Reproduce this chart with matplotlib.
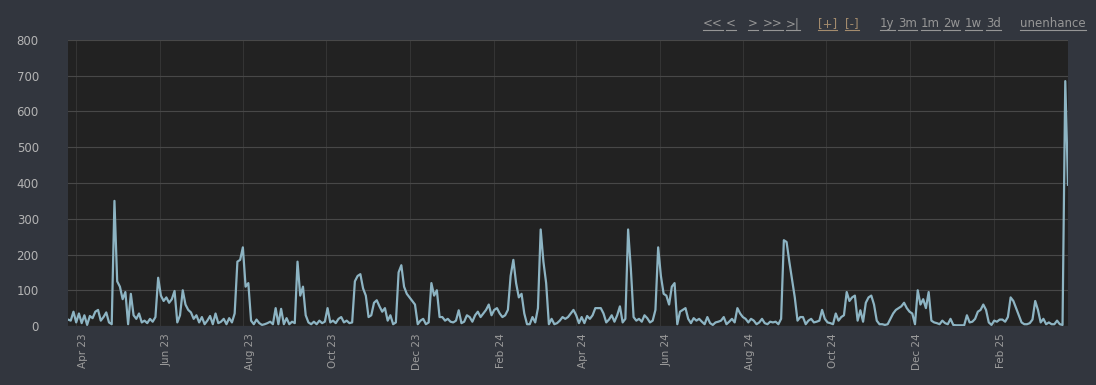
import matplotlib
matplotlib.use('Agg')
import matplotlib.pyplot as plt
import matplotlib.dates as mdates
from matplotlib.ticker import MultipleLocator
from matplotlib.transforms import ScaledTranslation
from matplotlib.lines import Line2D
import pandas as pd

# daily counts sampled every 2 days, starting 2023-03-26
start_date = '2023-03-26'

block1 = [18, 15, 40, 10, 35, 8, 30, 3, 28, 22,
          40, 45, 15, 25, 38, 10, 5, 350, 125, 110,
          75, 95, 5, 90, 30, 20, 35, 10, 15, 8,
          20, 12, 25, 135, 85, 70, 80, 65, 75, 98,
          10, 30, 100, 60, 45, 38, 20, 30, 10, 25,
          5, 15, 28, 5, 35, 8, 12, 20, 5, 22,
          10, 35, 180, 185, 220, 110, 120, 15, 5, 18,
          8, 3, 5]
block2 = [8, 12, 5, 50, 5, 48, 5, 22, 5, 12,
          8, 180, 85, 110, 30, 10, 5, 12, 5, 15,
          8, 12, 50, 10, 15, 8, 20, 25, 10, 15,
          8, 10, 125, 140, 145, 105, 85, 25, 30, 65,
          72, 55, 40, 50, 15, 30, 5, 10, 150, 170,
          110, 90, 80, 70, 60, 5, 15, 20, 5, 10,
          120, 85, 100, 25, 25, 15, 20, 12, 10, 15,
          44, 8, 12, 30]
block3 = [25, 12, 30, 40, 25, 35, 45, 60, 30, 45,
          50, 35, 25, 30, 45, 140, 185, 120, 80, 90,
          35, 5, 5, 25, 10, 50, 270, 180, 120, 5,
          20, 5, 8, 15, 25, 20, 25, 35, 45, 30,
          8, 25, 8, 28, 20, 30, 50, 50, 50, 35,
          10, 18, 30, 12, 30, 55, 10, 20, 270, 160,
          25, 15, 20, 12, 30, 22, 10, 15, 45, 220,
          140, 90, 85]
block4 = [60, 110, 120, 5, 40, 45, 50, 20, 8, 22,
          15, 20, 12, 5, 25, 8, 3, 10, 12, 15,
          25, 5, 12, 20, 10, 50, 35, 25, 20, 10,
          20, 15, 5, 10, 20, 8, 5, 12, 10, 12,
          5, 20, 240, 235, 180, 130, 80, 15, 25, 25,
          5, 15, 20, 10, 12, 15, 45, 20, 10, 8,
          5, 35, 15, 25, 30, 95, 70, 80, 85, 15,
          44, 12, 65]
block5 = [80, 85, 60, 15, 5, 5, 3, 5, 20, 35,
          45, 50, 55, 65, 50, 40, 35, 5, 100, 60,
          75, 50, 95, 15, 10, 8, 5, 15, 8, 5,
          20, 3, 2, 2, 2, 2, 30, 10, 12, 20,
          40, 45, 60, 45, 10, 3, 15, 12, 18, 18,
          12, 25, 80, 70, 50, 30, 10, 5, 5, 8,
          18, 70, 45, 10, 20, 5, 10, 5, 5, 15,
          5, 3, 685, 395]

nav_links = ['<<', '<', '>', '>>', '>|', '[+]', '[-]',
             '1y', '3m', '1m', '2w', '1w', '3d', 'unenhance']

counts = block1 + block2 + block3 + block4 + block5
dates = pd.date_range(start_date, periods=len(counts), freq='2D')

W, H = 1096, 385
fig = plt.figure(figsize=(W / 100, H / 100), dpi=100, facecolor='#32363e')
ax = fig.add_axes([68 / W, 1 - 326 / H, 1000 / W, 286 / H])
ax.set_facecolor('#222222')

ax.plot(dates, counts, color='#8db4c3', lw=1.6, solid_joinstyle='round')
ax.set_ylim(0, 800)
ax.set_xlim(dates[0], dates[-1])
ax.yaxis.set_major_locator(MultipleLocator(100))
ax.xaxis.set_major_locator(mdates.MonthLocator(bymonth=range(2, 13, 2)))
ax.xaxis.set_major_formatter(mdates.DateFormatter('%b %y'))

for s in ax.spines.values():
    s.set_visible(False)
ax.tick_params(length=0)
ax.tick_params(axis='y', pad=21, labelsize=8.5, labelcolor='#b4b4b4')
ax.tick_params(axis='x', pad=5, labelsize=7.5, labelcolor='#9c9c9c', labelrotation=90)
ax.grid(axis='y', color='#484848', lw=0.8)
ax.grid(axis='x', color='#343434', lw=0.8)
ax.set_axisbelow(True)

shift = ScaledTranslation(0.07, 0, fig.dpi_scale_trans)
for lab in ax.get_xticklabels():
    lab.set_transform(lab.get_transform() + shift)

# nav links, top right
link_x = [703, 726, 748, 763, 786, 818, 845, 880, 898, 921, 943, 965, 986, 1020]
texts = []
for name, px in zip(nav_links, link_x):
    col = '#a38b6d' if name in ('[+]', '[-]') else '#969696'
    t = fig.text(px / W, 1 - 27 / H, name, color=col, fontsize=8.5,
                 ha='left', va='baseline')
    texts.append(t)

renderer = fig.canvas.get_renderer()
for t in texts:
    bb = t.get_window_extent(renderer)
    y = (H - 30) / H
    fig.add_artist(Line2D([bb.x0 / W, bb.x1 / W], [y, y], color=t.get_color(),
                          lw=0.8, transform=fig.transFigure))

fig.savefig('out.png', dpi=100, facecolor=fig.get_facecolor())
